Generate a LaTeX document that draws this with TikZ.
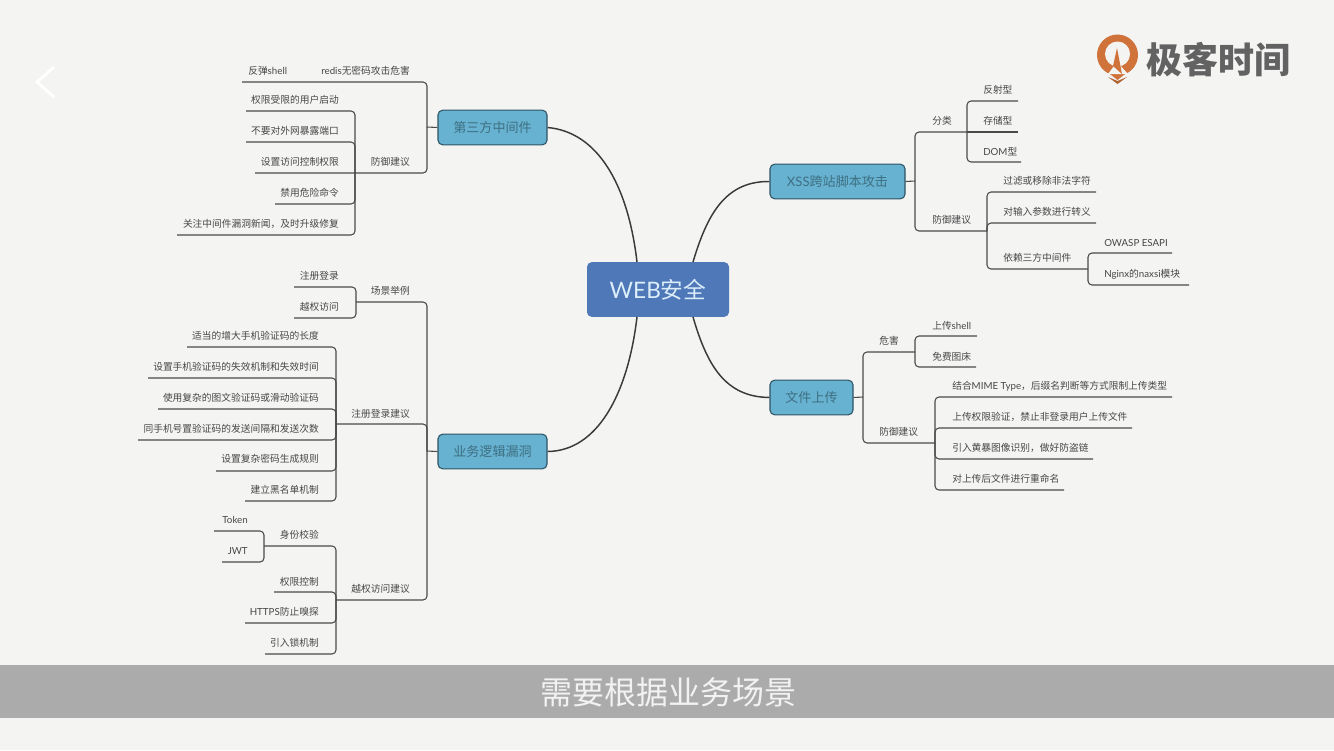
\documentclass[tikz,border=0pt]{standalone}
\usepackage{fontspec}
\setmainfont{Noto Sans CJK SC}
\newfontfamily\la{Lato}
\definecolor{bgc}{HTML}{F4F4F3}
\definecolor{bandc}{HTML}{ABABAB}
\definecolor{linec}{HTML}{4A4A4A}
\definecolor{txtc}{HTML}{474747}
\definecolor{branchf}{HTML}{66B2D0}
\definecolor{branchd}{HTML}{2E5363}
\definecolor{brancht}{HTML}{3F6F82}
\definecolor{rootf}{HTML}{4F78B8}
\definecolor{roott}{HTML}{DCEEFA}
\definecolor{curvec}{HTML}{3A3A3A}
\definecolor{orangec}{HTML}{D0733A}
\definecolor{logot}{HTML}{626262}
\tikzset{
 conn/.style={draw=linec,line width=.8pt,rounded corners=3pt},
 curve/.style={draw=curvec,line width=1.1pt},
 lab/.style={font=\fontsize{7.3}{9}\selectfont,text=txtc,inner sep=0pt,yshift=-.6pt},
 labl/.style={lab,anchor=west},
 labr/.style={lab,anchor=east},
 branch/.style={fill=branchf,draw=branchd,line width=.8pt,rounded corners=3.5pt,text=brancht,font=\fontsize{9.8}{12}\selectfont,minimum height=26pt,inner sep=0pt},
 rootn/.style={fill=rootf,rounded corners=3.5pt,text=roott,font=\fontsize{17}{20}\selectfont,minimum width=106.5pt,minimum height=41pt,inner sep=0pt},
}
\newcommand{\hookto}[2]{\draw[conn] (#1) -| (#2);}
% a straight run written as a flat curve, so it renders at the same weight as the hooked lines
\newcommand{\runto}[2]{\draw[conn] (#1) .. controls ($(#1)!.3!(#2)$) and ($(#1)!.7!(#2)$) .. (#2);}
\usetikzlibrary{calc}
\begin{document}
\begin{tikzpicture}[x=.75pt,y=-.75pt]
\useasboundingbox (0,0) rectangle (1334,750);
\fill[bgc] (0,0) rectangle (1334,750);
% back chevron
\coordinate (cha) at (54,67); \coordinate (chb) at (37,82); \coordinate (chc) at (54,97);
\draw[white,line width=2.2pt] (cha) -- (chb) -- (chc);
% logo
\fill[orangec] (1117.5,55) circle (20.5);
\fill[orangec] (1101,67) -- (1117.5,80) -- (1134,67) -- cycle;
\fill[bgc] (1117.5,54) circle (12.5);
\fill[bgc] (1117,62) -- (1108,74) -- (1128,74) -- cycle;
\fill[orangec] (1117,48) -- (1122,74) -- (1113,66) -- cycle;
\fill[orangec!85!black] (1108,77) -- (1117.5,81) -- (1127,77) -- (1117.5,84) -- cycle;
\node[text=logot,font=\fontsize{27}{30}\selectfont\bfseries,inner sep=0pt] (logo) at (1218,60) {极客时间};
% band
\fill[bandc] (0,665) rectangle (1334,718);
\node[text=white!95!black,font=\fontsize{24}{28}\selectfont,inner sep=0pt] (sub) at (668,692) {需要根据业务场景};

% main nodes
\node[rootn] (root) at (658,289.5) {{\la WEB}安全};
\node[branch,minimum width=81.75pt] (mid) at (492.5,127.5) {第三方中间件};
\node[branch,minimum width=81.75pt] (biz) at (492.5,451.5) {业务逻辑漏洞};
\node[branch,minimum width=101.25pt] (xss) at (837.5,181.5) {{\la XSS}跨站脚本攻击};
\node[branch,minimum width=62.25pt] (file) at (811.5,397.5) {文件上传};
% curves
\coordinate (rtl) at (637,262); \coordinate (rtr) at (693,262);
\coordinate (rbl) at (637,317); \coordinate (rbr) at (693,317);
\draw[curve] (rtl) .. controls (628,185) and (598,132) .. (mid.east);
\draw[curve] (rtr) .. controls (707,215) and (725,181) .. (xss.west);
\draw[curve] (rbl) .. controls (628,393) and (598,451) .. (biz.east);
\draw[curve] (rbr) .. controls (707,365) and (725,397) .. (file.west);

% ---- third-party middleware
\coordinate (t1) at (427,127);
\draw[conn] (mid.west) -- (t1);
\node[labl] (m1) at (321,70) {{\la redis}无密码攻击危害};
\node[labl] (m1a) at (248,70) {反弹{\la shell}};
\coordinate (m1e) at (242,82);
\hookto{m1e}{t1}
\node[labr] (m2) at (410,161) {防御建议};
\coordinate (s1) at (355,173);
\hookto{s1}{t1}
\node[labr] (a1) at (339,99) {权限受限的用户启动};
\node[labr] (a2) at (339,130) {不要对外网暴露端口};
\node[labr] (a3) at (339,161) {设置访问控制权限};
\node[labr] (a4) at (339,192) {禁用危险命令};
\node[labr] (a5) at (339,223) {关注中间件漏洞新闻，及时升级修复};
\coordinate (a1e) at (246,111);
\coordinate (a2e) at (246,142);
\coordinate (a3e) at (255,173);
\coordinate (a4e) at (275,204);
\coordinate (a5e) at (177,235);
\hookto{a1e}{s1}\hookto{a2e}{s1}\runto{a3e}{s1}\hookto{a4e}{s1}\hookto{a5e}{s1}

% ---- business logic
\coordinate (t2) at (427,451);
\draw[conn] (biz.west) -- (t2);
\node[labr] (b1) at (410,290) {场景举例};
\node[labr] (b2) at (410,413) {注册登录建议};
\node[labr] (b3) at (410,588) {越权访问建议};
\coordinate (s21) at (356,302);
\coordinate (s22) at (336,424);
\coordinate (s23) at (336,600);
\hookto{s21}{t2}\hookto{s22}{t2}\hookto{s23}{t2}
\node[labr] (c1) at (339,275) {注册登录};
\node[labr] (c2) at (339,306) {越权访问};
\coordinate (c1e) at (294,287); \coordinate (c2e) at (294,318);
\hookto{c1e}{s21}\hookto{c2e}{s21}
\node[labr] (d1) at (319,335) {适当的增大手机验证码的长度};
\node[labr] (d2) at (319,366) {设置手机验证码的失效机制和失效时间};
\node[labr] (d3) at (319,397) {使用复杂的图文验证码或滑动验证码};
\node[labr] (d4) at (319,428) {同手机号置验证码的发送间隔和发送次数};
\node[labr] (d5) at (319,458) {设置复杂密码生成规则};
\node[labr] (d6) at (319,489) {建立黑名单机制};
\coordinate (d1e) at (187,347); \coordinate (d2e) at (148,378); \coordinate (d3e) at (158,409);
\coordinate (d4e) at (138,440); \coordinate (d5e) at (216,471); \coordinate (d6e) at (245,501);
\hookto{d1e}{s22}\hookto{d2e}{s22}\hookto{d3e}{s22}\hookto{d4e}{s22}\hookto{d5e}{s22}\hookto{d6e}{s22}
\node[labr] (e1) at (319,534) {身份校验};
\node[labr] (e2) at (319,581) {权限控制};
\node[labr] (e3) at (319,611) {{\la HTTPS}防止嗅探};
\node[labr] (e4) at (319,642) {引入锁机制};
\coordinate (e1e) at (264,546); \coordinate (e2e) at (274,592); \coordinate (e3e) at (245,623); \coordinate (e4e) at (265,654);
\hookto{e1e}{s23}\hookto{e2e}{s23}\hookto{e3e}{s23}\hookto{e4e}{s23}
\node[labr] (f1) at (248,519) {\la Token};
\node[labr] (f2) at (248,550) {\la JWT};
\coordinate (f1e) at (214,531); \coordinate (f2e) at (222,562);
\hookto{f1e}{e1e}\hookto{f2e}{e1e}

% ---- XSS
\coordinate (t3) at (915,181);
\draw[conn] (xss.east) -- (t3);
\node[labl] (x1) at (932,120) {分类};
\node[labl] (x2) at (932,219) {防御建议};
\coordinate (s31) at (967,132); \coordinate (s32) at (987,231);
\hookto{s31}{t3}\hookto{s32}{t3}
\node[labl] (g1) at (983,89) {反射型};
\node[labl] (g2) at (983,120) {存储型};
\node[labl] (g3) at (983,151) {{\la DOM}型};
\coordinate (g1e) at (1018,101); \coordinate (g2e) at (1018,132); \coordinate (g3e) at (1021,162);
\hookto{g1e}{s31}\runto{g2e}{s31}\hookto{g3e}{s31}
\node[labl] (h1) at (1003,180) {过滤或移除非法字符};
\node[labl] (h2) at (1003,211) {对输入参数进行转义};
\node[labl] (h3) at (1003,257) {依赖三方中间件};
\coordinate (h1e) at (1096,192); \coordinate (h2e) at (1096,223); \coordinate (h3e) at (1088,269);
\hookto{h1e}{s32}\hookto{h2e}{s32}\hookto{h3e}{s32}
\node[labl] (i1) at (1104,242) {\la OWASP ESAPI};
\node[labl] (i2) at (1104,273) {{\la Nginx}的{\la naxsi}模块};
\coordinate (i1e) at (1172,253); \coordinate (i2e) at (1189,285);
\hookto{i1e}{h3e}\hookto{i2e}{h3e}

% ---- file upload
\coordinate (t4) at (863,397);
\draw[conn] (file.east) -- (t4);
\node[labl] (y1) at (879,340) {危害};
\node[labl] (y2) at (879,431) {防御建议};
\coordinate (s41) at (915,352); \coordinate (s42) at (935,443);
\hookto{s41}{t4}\hookto{s42}{t4}
\node[labl] (j1) at (932,325) {上传{\la shell}};
\node[labl] (j2) at (932,356) {免费图床};
\coordinate (j1e) at (977,336); \coordinate (j2e) at (976,367);
\hookto{j1e}{s41}\hookto{j2e}{s41}
\node[labl] (k1) at (952,385) {结合{\la MIME Type}，后缀名判断等方式限制上传类型};
\node[labl] (k2) at (952,416) {上传权限验证，禁止非登录用户上传文件};
\node[labl] (k3) at (952,447) {引入黄暴图像识别，做好防盗链};
\node[labl] (k4) at (952,478) {对上传后文件进行重命名};
\coordinate (k1e) at (1172,397); \coordinate (k2e) at (1132,428); \coordinate (k3e) at (1093,459); \coordinate (k4e) at (1064,490);
\hookto{k1e}{s42}\hookto{k2e}{s42}\hookto{k3e}{s42}\hookto{k4e}{s42}
\end{tikzpicture}
\end{document}
